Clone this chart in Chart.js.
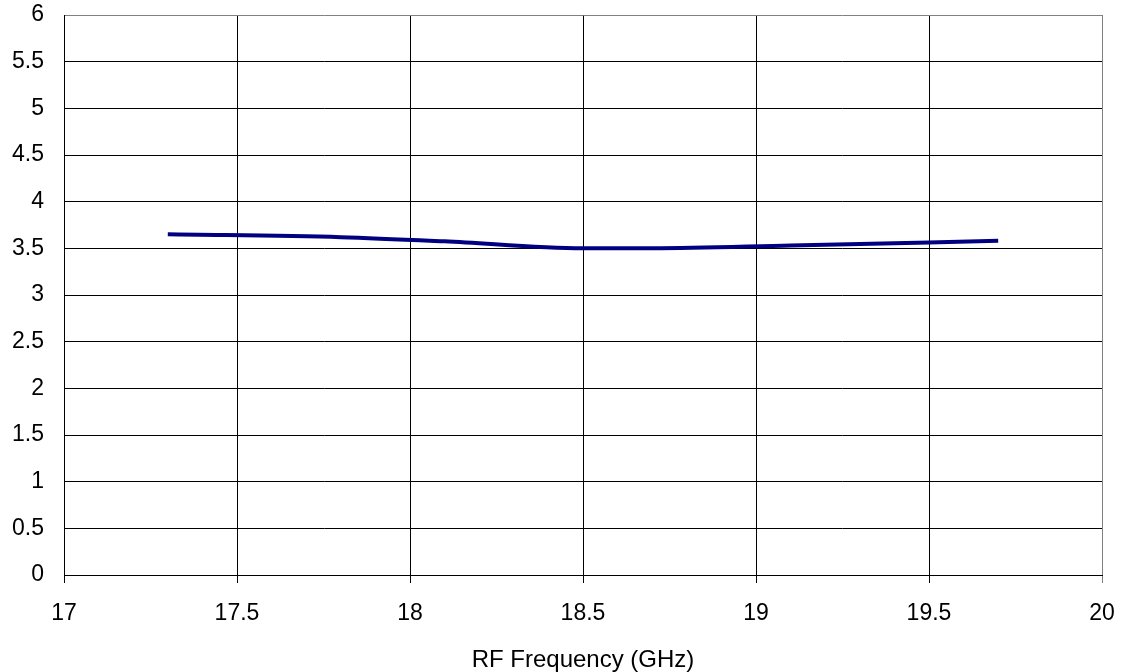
<!DOCTYPE html>
<html>
<head>
<meta charset="utf-8">
<script src="https://cdn.jsdelivr.net/npm/chart.js@4"></script>
<style>
  html, body { margin: 0; padding: 0; background: #fff; }
  #wrap { width: 1121px; height: 672px; }
</style>
</head>
<body>
<div id="wrap"><canvas id="chart"></canvas></div>
<script>
const freqs = [17.3, 17.8, 18.1, 18.5, 18.7, 19.1, 19.7];
const values = [3.65, 3.62, 3.575, 3.50, 3.50, 3.53, 3.58];
const xTicks = [17, 17.5, 18, 18.5, 19, 19.5, 20];
const yTicks = [0, 0.5, 1, 1.5, 2, 2.5, 3, 3.5, 4, 4.5, 5, 5.5, 6];

const data = {
  datasets: [
    {
      label: "RF",
      borderColor: "#000080",
      backgroundColor: "#000080",
      borderWidth: 4,
      pointRadius: 0,
      cubicInterpolationMode: "monotone",
      showLine: true,
      data: freqs.map((f, i) => ({ x: f, y: values[i] })),
    },
  ],
};

const config = {
  type: 'scatter',
  data: data,
  options: {
    responsive: true,
    maintainAspectRatio: false,
    animation: false,
    layout: { autoPadding: false, padding: { top: 15, right: 19, left: 0, bottom: 0 } },
    scales: {
      x: {
        type: 'linear',
        min: 17,
        max: 20,
        afterBuildTicks: s => { s.ticks = xTicks.map(v => ({ value: v })); },
        afterFit: s => {
          s.height = 672 - 575;
          s.paddingLeft = 0; s.paddingRight = 0;
        },
        border: { color: '#000', width: 1 },
        grid: {
          color: ctx => (ctx.tick && ctx.tick.value === 20) ? '#808080' : '#000',
          lineWidth: 1,
          tickLength: 8,
        },
        ticks: {
          color: '#000',
          padding: 17,
          maxRotation: 0,
          callback: v => String(v),
          font: { family: 'Liberation Sans, Arial', size: 23 },
        },
        title: {
          display: true,
          text: 'RF Frequency (GHz)',
          color: '#000',
          padding: { top: 0, bottom: -3 },
          font: { family: 'Liberation Sans, Arial', size: 24 },
        },
      },
      y: {
        min: 0,
        max: 6,
        afterBuildTicks: s => { s.ticks = yTicks.map(v => ({ value: v })); },
        afterFit: s => {
          s.width = 64;
          s.paddingTop = 0; s.paddingBottom = 0;
        },
        border: { color: '#000', width: 1 },
        grid: {
          color: ctx => (ctx.tick && ctx.tick.value === 6) ? '#808080' : '#000',
          lineWidth: 1,
          tickLength: 0,
        },
        ticks: {
          color: '#000',
          padding: 20,
          callback: v => String(v),
          font: { family: 'Liberation Sans, Arial', size: 23 },
        },
      },
    },
    plugins: {
      legend: { display: false },
      tooltip: { enabled: false },
    },
  },
};

const ctx = document.getElementById("chart").getContext("2d");
const chart = new Chart(ctx, config);
</script>
</body>
</html>
